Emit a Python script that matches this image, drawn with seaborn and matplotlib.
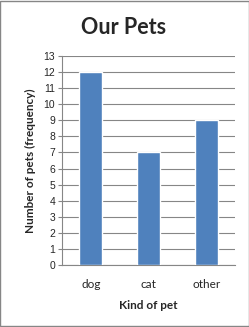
import matplotlib
matplotlib.use("Agg")
import matplotlib.pyplot as plt
import seaborn as sns
import pandas as pd
from matplotlib.patches import Rectangle

categories = ["dog", "cat", "other"]
counts = [12, 7, 9]
yticks = list(range(0, 14))

sns.set_style("white")
plt.rcParams['font.family'] = ['Lato', 'DejaVu Sans']

df = pd.DataFrame({"pet": categories, "count": counts})

fig = plt.figure(figsize=(2.49, 3.27), dpi=100)
ax = fig.add_axes([62/249, (327-265)/327, (235-62)/249, (265-56)/327])
sns.barplot(data=df, x="pet", y="count", color="#4F81BD", saturation=1, width=0.4, ax=ax, zorder=3)

ax.set_ylim(0, 13)
ax.set_yticks(yticks)
ax.set_yticklabels([str(t) for t in yticks], family="Liberation Sans", fontsize=7.5, color="#262626")
ax.tick_params(axis="y", length=3, width=0.8, color="#868686", pad=2, left=True)
ax.tick_params(axis="x", length=0, pad=10, labelsize=8.5, labelcolor="#262626")
ax.grid(axis="y", color="#868686", linewidth=0.8, zorder=0)
ax.set_axisbelow(True)
for s in ["top", "right"]:
    ax.spines[s].set_visible(False)
for s in ["left", "bottom"]:
    ax.spines[s].set_color("#868686")
    ax.spines[s].set_linewidth(0.8)

ax.set_xlabel("Kind of pet", fontsize=8.5, fontweight="bold", labelpad=7)
ax.set_ylabel("Number of pets (frequency)", fontsize=8.5, fontweight="bold", labelpad=5)
fig.text(124/249, 1 - 28/327, "Our Pets", ha="center", va="center", fontsize=15.5, fontweight="bold")

fig.patches.append(Rectangle((0.002, 0.002), 0.996, 0.996, transform=fig.transFigure,
                             fill=False, edgecolor="#868686", linewidth=1))

fig.savefig("out.png", dpi=100)
